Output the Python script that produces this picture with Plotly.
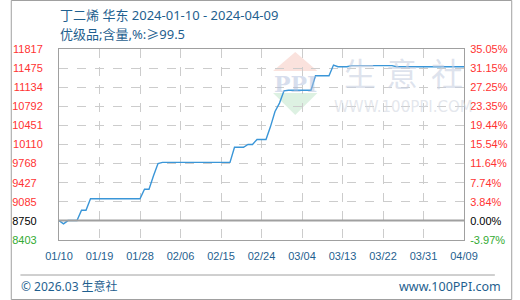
import plotly.graph_objects as go
import pandas as pd

# ---------------- data ----------------
title_text = "丁二烯 华东 2024-01-10 - 2024-04-09"
subtitle_text = "优级品;含量,%:≥99.5"
start_date = "2024-01-10"
end_date = "2024-04-09"
dates = pd.date_range(start_date, end_date, freq="D")
prices = [
    8750, 8690, 8750, 8750, 8750, 8935, 8935, 9140, 9140, 9140,
    9140, 9140, 9140, 9140, 9140, 9140, 9140, 9140, 9140, 9310,
    9310, 9550, 9770, 9790, 9790, 9790, 9790, 9790, 9790, 9790,
    9790, 9790, 9790, 9790, 9790, 9790, 9790, 9790, 9790, 10060,
    10060, 10060, 10110, 10110, 10200, 10200, 10200, 10430, 10700, 10850,
    11070, 11080, 11080, 11080, 11080, 11080, 11080, 11340, 11340, 11340,
    11340, 11530, 11500, 11500, 11500, 11520, 11520, 11520, 11520, 11520,
    11520, 11520, 11520, 11520, 11520, 11500, 11500, 11500, 11500, 11500,
    11500, 11500, 11500, 11500, 11500, 11500, 11500, 11500, 11500, 11500,
    11500,
]
base_value = 8750
y_min = 8402.6
y_max = 11816.9
left_tick_labels = ["8403", "8750", "9085", "9427", "9768", "10110",
                    "10451", "10792", "11134", "11475", "11817"]
right_tick_labels = ["-3.97%", "0.00%", "3.84%", "7.74%", "11.64%", "15.54%",
                     "19.44%", "23.35%", "27.25%", "31.15%", "35.05%"]
x_tick_dates = ["2024-01-10", "2024-01-19", "2024-01-28", "2024-02-06", "2024-02-15",
                "2024-02-24", "2024-03-04", "2024-03-13", "2024-03-22", "2024-03-31",
                "2024-04-09"]
x_tick_labels = ["01/10", "01/19", "01/28", "02/06", "02/15", "02/24",
                 "03/04", "03/13", "03/22", "03/31", "04/09"]
footer_left = "© 2026.03 生意社"
footer_right = "www.100PPI.com"

# ---------------- styling ----------------
W, H = 520, 300
L, R, T, B = 50, 470, 49, 240
BLUE_TXT = "#1f5f8f"
RED = "#ff3333"
GREEN = "#33aa33"
GRID = "#cccccc"
FRAME = "#a0a0a0"
LINE = "#3a96d8"
TICK_FONT = "Liberation Sans"
TXT_FONT = "Noto Sans, Noto Sans CJK SC"
CJK = "Noto Sans CJK SC"
CLEAR = "rgba(0,0,0,0)"


def px(x):
    return (x - L) / (R - L)


def py(y):
    return (B - y) / (B - T)


n = len(left_tick_labels)
tick_vals = [y_min + k * (y_max - y_min) / (n - 1) for k in range(n)]


def color_for(i):
    if i == 0:
        return GREEN
    if i == 1:
        return "#000000"
    return RED


left_text = []
for i, t in enumerate(left_tick_labels):
    pad = "\u00a0\u00a0" * (5 - len(t))
    left_text.append(f'<span style="color:{color_for(i)}">{t}{pad}</span>')
right_text = [f'<span style="color:{color_for(i)}">{t}</span>' for i, t in enumerate(right_tick_labels)]

fig = go.Figure()
fig.add_trace(go.Scatter(
    x=dates, y=prices, mode="lines",
    line=dict(color=LINE, width=1.4),
    hoverinfo="skip", showlegend=False,
))
# invisible trace on right axis
fig.add_trace(go.Scatter(
    x=[dates[0]], y=[base_value], yaxis="y2", mode="markers",
    marker=dict(opacity=0), hoverinfo="skip", showlegend=False,
))

fig.update_layout(
    width=W, height=H,
    margin=dict(l=L, r=W - R, t=T, b=H - B),
    paper_bgcolor="white", plot_bgcolor="white",
    xaxis=dict(
        type="date",
        range=[start_date, end_date],
        tickvals=x_tick_dates, ticktext=x_tick_labels,
        tickfont=dict(family=TICK_FONT, size=11, color=BLUE_TXT),
        showgrid=True, gridcolor=GRID, griddash="dash", gridwidth=1,
        showline=True, linecolor=FRAME, linewidth=1, mirror=True,
        ticks="outside", ticklen=6, tickcolor=CLEAR,
        zeroline=False,
    ),
    yaxis=dict(
        range=[y_min, y_max],
        tickvals=tick_vals, ticktext=left_text,
        tickfont=dict(family=TICK_FONT, size=11),
        showgrid=True, gridcolor=GRID, griddash="dash", gridwidth=1,
        showline=True, linecolor=FRAME, linewidth=1, mirror=True,
        ticks="outside", ticklen=13, tickcolor=CLEAR,
        zeroline=False,
    ),
    yaxis2=dict(
        range=[y_min, y_max], overlaying="y", side="right",
        tickvals=tick_vals, ticktext=right_text,
        tickfont=dict(family=TICK_FONT, size=11),
        showgrid=False, zeroline=False, showline=False,
        ticks="outside", ticklen=3, tickcolor=CLEAR,
    ),
)

shapes = []
# base (0%) line
shapes.append(dict(type="line", xref="paper", yref="y", x0=0, x1=1,
                   y0=base_value, y1=base_value, line=dict(color=FRAME, width=2), layer="above"))
# outer border
shapes.append(dict(type="rect", xref="paper", yref="paper",
                   x0=px(0.5), x1=px(W - 0.5), y0=py(0.5), y1=py(H - 0.5),
                   line=dict(color=FRAME, width=1)))
# footer separator
shapes.append(dict(type="line", xref="paper", yref="paper",
                   x0=px(10), x1=px(502), y0=py(275), y1=py(275),
                   line=dict(color=FRAME, width=1)))
# watermark logo triangles
shapes.append(dict(type="path", xref="paper", yref="paper", layer="below",
                   path=f"M {px(295)},{py(52)} L {px(272)},{py(71)} L {px(318)},{py(71)} Z",
                   fillcolor="rgba(245,190,180,0.45)", line=dict(width=0)))
shapes.append(dict(type="path", xref="paper", yref="paper", layer="below",
                   path=f"M {px(272)},{py(93)} L {px(318)},{py(93)} L {px(295)},{py(115)} Z",
                   fillcolor="rgba(180,225,190,0.45)", line=dict(width=0)))
fig.update_layout(shapes=shapes)

ann = []
ann.append(dict(text=title_text, xref="paper", yref="paper", x=px(49), y=py(15),
                xanchor="left", yanchor="middle", showarrow=False,
                font=dict(family=TXT_FONT, size=13, color=BLUE_TXT)))
ann.append(dict(text=subtitle_text, xref="paper", yref="paper", x=px(49), y=py(34),
                xanchor="left", yanchor="middle", showarrow=False,
                font=dict(family=TXT_FONT, size=13, color=BLUE_TXT)))
ann.append(dict(text=footer_left, xref="paper", yref="paper", x=px(9), y=py(286),
                xanchor="left", yanchor="middle", showarrow=False,
                font=dict(family=TXT_FONT, size=12, color=BLUE_TXT)))
ann.append(dict(text=footer_right, xref="paper", yref="paper", x=px(510), y=py(286),
                xanchor="right", yanchor="middle", showarrow=False,
                font=dict(family=TXT_FONT, size=12.5, color=BLUE_TXT)))
# watermark texts
for ch, cx in zip("生意社", [362, 406, 452]):
    ann.append(dict(text=ch, xref="paper", yref="paper", x=px(cx), y=py(72),
                    xanchor="center", yanchor="middle", showarrow=False,
                    font=dict(family=CJK, size=32, color="rgba(200,208,225,0.6)")))
ann.append(dict(text="WWW.100PPI.COM", xref="paper", yref="paper", x=px(407), y=py(107),
                xanchor="center", yanchor="middle", showarrow=False,
                font=dict(family="DejaVu Sans", size=15, color="rgba(210,215,225,0.6)")))
ann.append(dict(text="<b>PPI</b>", xref="paper", yref="paper", x=px(295), y=py(84),
                xanchor="center", yanchor="middle", showarrow=False,
                font=dict(family="DejaVu Serif", size=22, color="rgba(175,190,220,0.5)")))
fig.update_layout(annotations=ann)

fig.write_html("out.html")
